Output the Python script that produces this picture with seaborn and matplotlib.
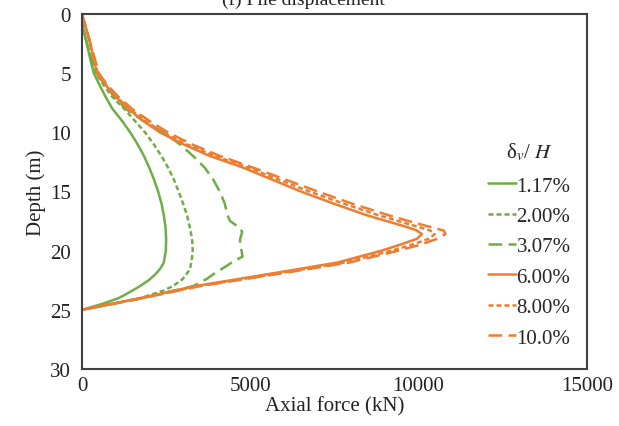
import numpy as np
import pandas as pd
import matplotlib
matplotlib.use("Agg")
import matplotlib.pyplot as plt
import seaborn as sns

# ---- data -------------------------------------------------------------
ratios = ["1.17%", "2.00%", "3.07%", "6.00%", "8.00%", "10.0%"]

depth_117 = [0, 1, 2, 3, 4, 5, 6, 7, 8, 9, 10, 11, 12, 13, 14, 15, 16, 17, 18, 19, 20, 21, 21.5, 22, 22.5, 23, 23.5, 24, 24.5, 25]
force_117 = [0, 20, 100, 180, 260, 350, 520, 700, 900, 1180, 1430, 1650, 1840, 2000, 2140, 2260, 2360, 2430, 2480, 2500, 2490, 2430, 2330, 2180, 1980, 1720, 1420, 1100, 600, 0]

depth_200 = [0, 1, 2, 3, 4, 5, 6, 7, 8, 9, 10, 11, 12, 13, 14, 15, 16, 17, 18, 19, 20, 21, 21.6, 22, 22.4, 23, 23.4, 24, 25]
force_200 = [0, 20, 100, 200, 300, 420, 640, 900, 1250, 1560, 1870, 2130, 2360, 2560, 2730, 2870, 3000, 3120, 3200, 3270, 3290, 3250, 3200, 3100, 2990, 2700, 2400, 1750, 0]

depth_307 = [0, 1, 2, 3, 4, 5, 6, 7, 8, 9, 10, 11, 12, 13, 14, 15, 16, 17, 17.5, 18, 18.4, 19, 19.5, 20, 20.5, 21, 21.3, 22, 22.4, 23, 24, 25]
force_307 = [0, 20, 100, 200, 300, 430, 680, 960, 1290, 1800, 2420, 2900, 3300, 3650, 3900, 4090, 4240, 4320, 4400, 4650, 4760, 4700, 4690, 4740, 4770, 4450, 4290, 3900, 3700, 3300, 1800, 0]

depth_600 = [0, 1, 2, 3, 4, 5, 6, 7, 8, 9, 10, 11, 12, 13, 14, 15, 16, 17, 17.5, 18, 18.3, 18.6, 19, 19.5, 20, 21, 22, 23, 24, 25]
force_600 = [0, 100, 200, 280, 360, 450, 700, 1000, 1360, 1800, 2310, 3000, 3800, 4800, 5650, 6500, 7450, 8450, 9050, 9650, 9950, 10100, 9950, 9450, 8900, 7600, 5500, 3350, 1750, 0]

depth_800 = [0, 1, 2, 3, 4, 5, 6, 7, 8, 9, 10, 11, 12, 13, 14, 15, 16, 17, 17.5, 18, 18.3, 18.6, 19, 19.5, 20, 21, 22, 23, 24, 25]
force_800 = [0, 100, 200, 290, 380, 470, 720, 1030, 1400, 1870, 2400, 3100, 3950, 4950, 5850, 6750, 7750, 8800, 9400, 10000, 10350, 10480, 10300, 9800, 9200, 7800, 5650, 3450, 1800, 0]

depth_100 = [0, 1, 2, 3, 4, 5, 6, 7, 8, 9, 10, 11, 12, 13, 14, 15, 16, 17, 17.5, 18, 18.3, 18.6, 19, 19.5, 20, 21, 22, 23, 24, 25]
force_100 = [0, 100, 200, 300, 400, 500, 750, 1080, 1480, 1980, 2550, 3250, 4100, 5100, 6050, 7000, 8000, 9100, 9700, 10350, 10750, 10800, 10550, 10050, 9400, 7950, 5750, 3500, 1820, 0]

x_ticks = [0, 5000, 10000, 15000]
y_ticks = [0, 5, 10, 15, 20, 25, 30]

# ---- build long table --------------------------------------------------
depths = [depth_117, depth_200, depth_307, depth_600, depth_800, depth_100]
forces = [force_117, force_200, force_307, force_600, force_800, force_100]
rows = []
for r, d, f in zip(ratios, depths, forces):
    for dd, ff in zip(d, f):
        rows.append({"ratio": r, "depth": dd, "force": ff})
df = pd.DataFrame(rows)

green = "#70AD47"
orange = "#ED7D31"
palette = {"1.17%": green, "2.00%": green, "3.07%": green,
           "6.00%": orange, "8.00%": orange, "10.0%": orange}
dashes = {"1.17%": "", "2.00%": (2.0, 1.2), "3.07%": (5.5, 2.5),
          "6.00%": "", "8.00%": (2.0, 1.2), "10.0%": (5.5, 2.5)}

sns.set_theme(style="white")
plt.rcParams["font.family"] = ["Liberation Serif", "DejaVu Serif"]
plt.rcParams["mathtext.fontset"] = "stix"

fig = plt.figure(figsize=(6.19, 4.27), dpi=100)
ax = fig.add_axes([0.1325, 0.1335, 0.8155, 0.8315])

sns.lineplot(data=df, x="force", y="depth", hue="ratio", style="ratio",
             hue_order=ratios, style_order=ratios, palette=palette,
             dashes=dashes, sort=False, estimator=None, units="ratio",
             linewidth=1.8, ax=ax, legend=True)

ax.set_xlim(0, 15000)
ax.set_ylim(30, 0)
ax.set_xticks(x_ticks)
ax.set_yticks(y_ticks)
ax.set_xticklabels([str(t) for t in x_ticks])
ax.set_yticklabels([str(t) for t in y_ticks])
ax.tick_params(axis="both", direction="in", length=6, width=1.2,
               color="#404040", labelsize=15, labelcolor="#222222", pad=8)
ax.tick_params(axis="x", pad=5)
for s in ax.spines.values():
    s.set_color("#404040")
    s.set_linewidth(1.5)
ax.set_xlabel("Axial force (kN)", fontsize=15, color="#222222", labelpad=1)
ax.set_ylabel("Depth (m)", fontsize=15, color="#222222", labelpad=3)

handles, labels = ax.get_legend_handles_labels()
leg = ax.legend(handles, labels, title=r"δ$_v$/ $H$", loc="upper left",
                bbox_to_anchor=(480 / 619, 1 - 133 / 427), bbox_transform=fig.transFigure,
                frameon=False, fontsize=15, title_fontsize=15,
                handlelength=1.35, handletextpad=0.0, labelspacing=0.52,
                borderaxespad=0)
leg._legend_box.sep = 10

fig.text(0.49, 1 - 5 / 427, "(f) Pile displacement", ha="center", va="baseline",
         fontsize=14, color="#222222")

fig.savefig("out.png", dpi=100)
